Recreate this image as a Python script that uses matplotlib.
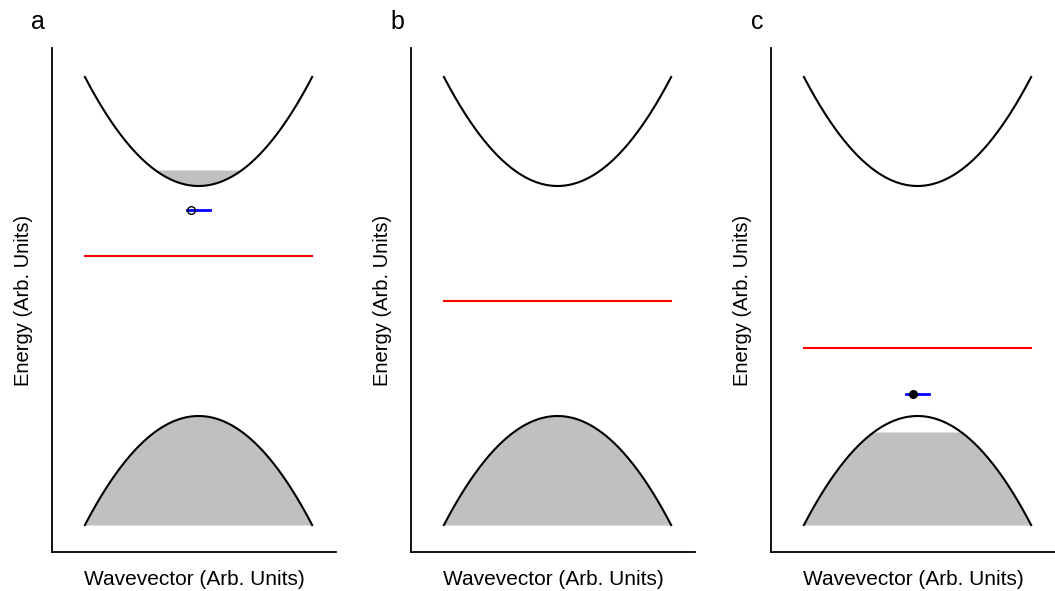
import numpy as np
import matplotlib.pyplot as plt

plt.rcParams["font.family"] = ["Liberation Sans", "DejaVu Sans"]

# band model (arbitrary units)
panel_labels = ["a", "b", "c"]
cond_min = 3.66          # conduction band minimum
val_max = 1.36           # valence band maximum
curvature = 1.09
band_floor = 0.27        # bottom of plotted valence band
fermi_levels = [2.96, 2.51, 2.04]
cond_fill_top = [3.82, None, None]
val_fill_top = [None, None, 1.20]
defect_x = [-0.07, None, -0.04]
defect_e = [3.42, None, 1.58]
defect_halfwidth = [0.10, None, 0.105]
defect_filled = [False, None, True]

k = np.linspace(-1, 1, 301)
gray = "#c0c0c0"

fig = plt.figure(figsize=(10.55, 5.91), dpi=100)
lefts = [52, 411, 771]
for i, lab in enumerate(panel_labels):
    ax = fig.add_axes([lefts[i] / 1055, 1 - 552 / 591, 284 / 1055, 504 / 591])
    ec = cond_min + curvature * k ** 2
    ev = val_max - curvature * k ** 2

    if cond_fill_top[i] is not None:
        ax.fill_between(k, ec, cond_fill_top[i], where=ec <= cond_fill_top[i],
                        color=gray, lw=0)
    vtop = ev if val_fill_top[i] is None else np.minimum(ev, val_fill_top[i])
    ax.fill_between(k, band_floor, vtop, color=gray, lw=0)

    ax.plot(k, ec, color="black", lw=1.5)
    ax.plot(k, ev, color="black", lw=1.5)
    ax.plot([-1, 1], [fermi_levels[i]] * 2, color="red", lw=1.5)

    if defect_x[i] is not None:
        ax.plot([-defect_halfwidth[i], defect_halfwidth[i]], [defect_e[i]] * 2,
                color="blue", lw=2)
        ax.plot(defect_x[i], defect_e[i], "o", ms=5.5, mec="black", mew=1,
                mfc="black" if defect_filled[i] else "none")

    ax.set_xlim(-1.29, 1.21)
    ax.set_ylim(0, 5.04)
    ax.set_xticks([])
    ax.set_yticks([])
    for s in ["top", "right"]:
        ax.spines[s].set_visible(False)
    for s in ["left", "bottom"]:
        ax.spines[s].set_linewidth(1.3)
    ax.set_xlabel("Wavevector (Arb. Units)", fontsize=15, labelpad=13)
    ax.set_ylabel("Energy (Arb. Units)", fontsize=14.5, labelpad=14)
    fig.text((lefts[i] - 14) / 1055, 1 - 22 / 591, lab, fontsize=18,
             ha="center", va="center")

fig.savefig("out.png", dpi=100)
